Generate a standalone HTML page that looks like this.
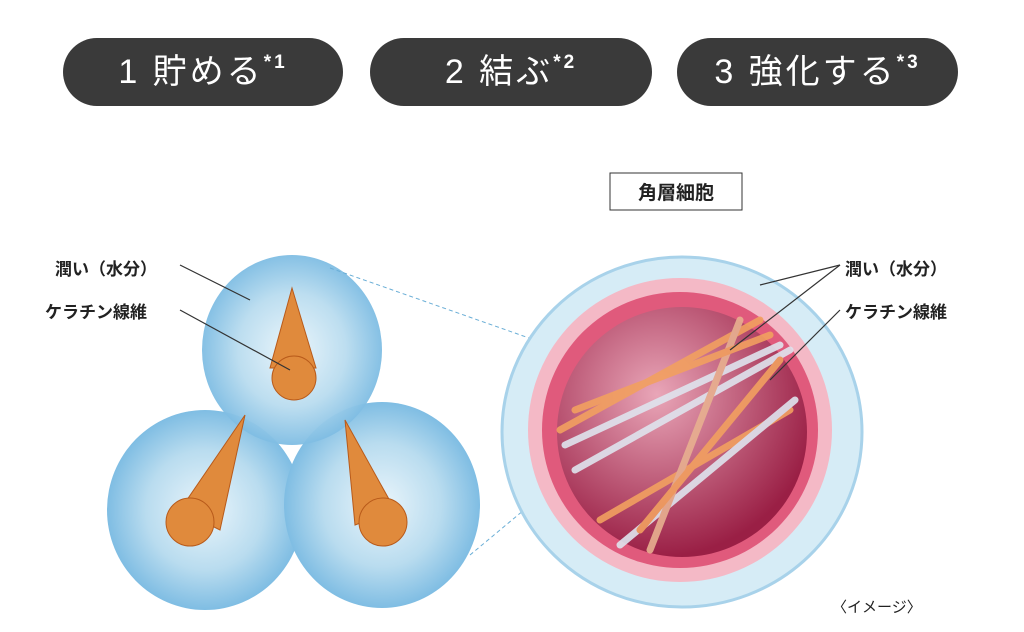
<!DOCTYPE html>
<html><head><meta charset="utf-8"><style>
body{margin:0;width:1024px;height:632px;background:#fff;overflow:hidden;position:relative;font-family:"Liberation Sans","Noto Sans CJK JP",sans-serif}
.pill{position:absolute;top:38px;height:68px;background:#3a3a3a;border-radius:34px;color:#fff;font-size:34px;line-height:68px;text-align:center;letter-spacing:3px}
.pill sup{font-size:19px;vertical-align:top;line-height:50px;font-weight:bold}
.lb{position:absolute;font-size:17px;color:#222;font-weight:bold}
</style></head><body>
<div class="pill" style="left:63px;width:280px">1 貯める<sup>*1</sup></div>
<div class="pill" style="left:370px;width:282px">2 結ぶ<sup>*2</sup></div>
<div class="pill" style="left:677px;width:281px">3 強化する<sup>*3</sup></div>
<svg width="1024" height="632" style="position:absolute;left:0;top:0">
<defs>
<radialGradient id="bl" cx="50%" cy="50%" r="50%"><stop offset="0" stop-color="#eaf5fb"/><stop offset="0.6" stop-color="#b9dcef"/><stop offset="1" stop-color="#7fbde3"/></radialGradient>
<radialGradient id="rd" cx="40%" cy="35%" r="65%"><stop offset="0" stop-color="#e9a6b8"/><stop offset="1" stop-color="#9a1f45"/></radialGradient>
</defs>
<ellipse cx="205" cy="510" rx="98" ry="100" fill="url(#bl)"/>
<ellipse cx="382" cy="505" rx="98" ry="103" fill="url(#bl)"/>
<ellipse cx="292" cy="350" rx="90" ry="95" fill="url(#bl)" opacity="0.95"/>
<g fill="#e08a3c" stroke="#b85a1a">
<path d="M292 288 L270 368 L316 368 Z"/><circle cx="294" cy="378" r="22"/>
<path d="M245 415 L180 510 L220 530 Z"/><circle cx="190" cy="522" r="24"/>
<path d="M345 420 L355 525 L395 510 Z"/><circle cx="383" cy="522" r="24"/>
</g>
<line x1="330" y1="268" x2="620" y2="370" stroke="#6aaed6" stroke-dasharray="4 3"/>
<line x1="470" y1="555" x2="560" y2="480" stroke="#6aaed6" stroke-dasharray="4 3"/>
<ellipse cx="682" cy="432" rx="180" ry="175" fill="#d6ecf6" stroke="#a8d2ea" stroke-width="3"/>
<circle cx="680" cy="430" r="152" fill="#f4b9c6"/>
<circle cx="680" cy="430" r="138" fill="#e05a7c"/>
<circle cx="682" cy="432" r="125" fill="url(#rd)"/>
<g stroke-width="7" stroke-linecap="round" opacity="0.9">
<line x1="560" y1="430" x2="760" y2="320" stroke="#f2a060"/>
<line x1="565" y1="445" x2="780" y2="345" stroke="#dfe4ee"/>
<line x1="575" y1="470" x2="790" y2="350" stroke="#dfe4ee"/>
<line x1="600" y1="520" x2="790" y2="410" stroke="#f2a060"/>
<line x1="620" y1="545" x2="795" y2="400" stroke="#dfe4ee"/>
<line x1="650" y1="550" x2="740" y2="320" stroke="#e8b090"/>
<line x1="640" y1="530" x2="780" y2="360" stroke="#f2a060"/>
<line x1="575" y1="410" x2="770" y2="335" stroke="#f2a060"/>
</g>
<rect x="610" y="173" width="132" height="37" fill="#fff" stroke="#333"/>
<text x="676" y="199" font-size="19" text-anchor="middle" fill="#222" font-weight="bold" font-family="Liberation Sans,Noto Sans CJK JP,sans-serif">角層細胞</text>
<g stroke="#333" stroke-width="1.2" fill="none">
<polyline points="180,265 250,300"/>
<polyline points="180,310 290,370"/>
<polyline points="840,265 760,285"/><polyline points="840,265 730,350"/>
<polyline points="840,310 770,380"/>
</g>
</svg>
<div class="lb" style="left:55px;top:255px">潤い（水分）</div>
<div class="lb" style="left:45px;top:298px">ケラチン線維</div>
<div class="lb" style="left:845px;top:255px">潤い（水分）</div>
<div class="lb" style="left:845px;top:298px">ケラチン線維</div>
<div class="lb" style="left:832px;top:596px;font-weight:normal;font-size:15px">〈イメージ〉</div>
</body></html>
